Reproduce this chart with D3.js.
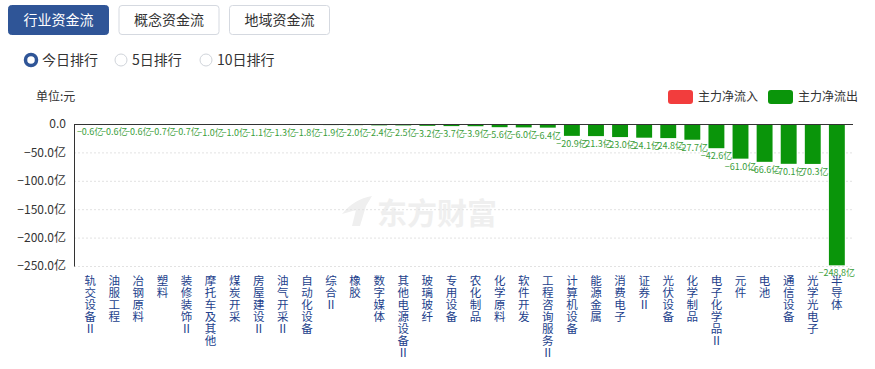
<!DOCTYPE html>
<html>
<head>
<meta charset="utf-8">
<script src="https://cdn.jsdelivr.net/npm/d3@7"></script>
<style>
    body { margin: 0; background: #fff; font-family: "Noto Sans CJK SC", "Noto Sans", sans-serif; }
</style>
</head>
<body>
<div id="chart"></div>
<script>
const categories = [
    "轨交设备Ⅱ", "油服工程", "冶钢原料", "塑料", "装修装饰Ⅱ", "摩托车及其他",
    "煤炭开采", "房屋建设Ⅱ", "油气开采Ⅱ", "自动化设备", "综合Ⅱ", "橡胶",
    "数字媒体", "其他电源设备Ⅱ", "玻璃玻纤", "专用设备", "农化制品", "化学原料",
    "软件开发", "工程咨询服务Ⅱ", "计算机设备", "能源金属", "消费电子", "证券Ⅱ",
    "光伏设备", "化学制品", "电子化学品Ⅱ", "元件", "电池", "通信设备",
    "光学光电子", "半导体"
];
const netFlow = [
    -0.6, -0.6, -0.6, -0.7, -0.7, -1.0, -1.0, -1.1, -1.3, -1.8, -1.9, -2.0,
    -2.4, -2.5, -3.2, -3.7, -3.9, -5.6, -6.0, -6.4, -20.9, -21.3, -23.0, -24.1,
    -24.8, -27.7, -42.6, -61.0, -66.6, -70.1, -70.3, -248.8
];
const yTicks = [0, -50, -100, -150, -200, -250];
const tabs = ["行业资金流", "概念资金流", "地域资金流"];
const ranks = ["今日排行", "5日排行", "10日排行"];
const legendItems = [
    { name: "主力净流入", color: "#f23d3d" },
    { name: "主力净流出", color: "#0a950a" }
];

const width = 875, height = 369;
const margin = { top: 124, left: 74, right: 22, bottom: 103 };
const plotW = width - margin.left - margin.right;
const plotH = height - margin.top - margin.bottom;

const svg = d3.select("#chart").append("svg")
    .attr("width", width).attr("height", height);

// tabs
const tabG = svg.append("g");
tabs.forEach((t, i) => {
    const x = 8 + i * 110.5;
    tabG.append("rect")
        .attr("x", x + 0.5).attr("y", 5.5)
        .attr("width", 100).attr("height", 29)
        .attr("rx", 3)
        .attr("fill", i === 0 ? "#2f5597" : "#fff")
        .attr("stroke", i === 0 ? "#2f5597" : "#d5d9e0");
    tabG.append("text")
        .attr("x", x + 50.5).attr("y", 25)
        .attr("text-anchor", "middle")
        .style("font-size", "14px")
        .attr("fill", i === 0 ? "#fff" : "#333")
        .text(t);
});

// radio buttons
const radioX = [31, 121, 206];
ranks.forEach((r, i) => {
    if (i === 0) {
        svg.append("circle").attr("cx", radioX[i]).attr("cy", 60).attr("r", 5.5)
            .attr("fill", "#fff").attr("stroke", "#2f5597").attr("stroke-width", 3.5);
    } else {
        svg.append("circle").attr("cx", radioX[i]).attr("cy", 60).attr("r", 6)
            .attr("fill", "#fff").attr("stroke", "#d0d4da");
    }
    svg.append("text")
        .attr("x", radioX[i] + 11).attr("y", 65)
        .style("font-size", "14px").attr("fill", "#333")
        .text(r);
});

// unit + legend
svg.append("text").attr("x", 36).attr("y", 101)
    .style("font-size", "12px").attr("fill", "#333").text("单位:元");

const legendX = [668, 768];
legendItems.forEach((l, i) => {
    svg.append("rect").attr("x", legendX[i]).attr("y", 90)
        .attr("width", 25).attr("height", 14).attr("rx", 3)
        .attr("fill", l.color);
    svg.append("text").attr("x", legendX[i] + 30).attr("y", 101)
        .style("font-size", "12px").attr("fill", "#333").text(l.name);
});

// watermark
const wm = svg.append("g").attr("fill", "#efefef");
wm.append("path")
    .attr("d", "M342,214 C350,204 360,198 372,196 L366,206 L360,226 L352,226 L356,210 Z");
wm.append("text").attr("x", 377).attr("y", 224)
    .style("font-size", "30px").style("font-weight", "bold")
    .text("东方财富");

const g = svg.append("g").attr("transform", `translate(${margin.left},${margin.top})`);

const x = d3.scaleBand().domain(categories).range([0, plotW]).padding(0.34);
const y = d3.scaleLinear().domain([0, -250]).range([0, plotH]);

// grid
g.selectAll(".grid").data(yTicks.slice(1)).join("line")
    .attr("x1", 0).attr("x2", plotW)
    .attr("y1", d => y(d) + 0.5).attr("y2", d => y(d) + 0.5)
    .attr("stroke", "#e2e2e2").attr("stroke-dasharray", "2,2");

// y axis
const yAxis = g.append("g").call(
    d3.axisLeft(y).tickValues(yTicks).tickSize(0).tickPadding(8)
        .tickFormat(d => d === 0 ? "0.0" : d3.format(".1f")(d) + "亿")
);
yAxis.select(".domain").attr("stroke", "#333");
yAxis.selectAll("text").style("font-size", "12px").attr("fill", "#333")
    .style("font-family", "'Noto Sans CJK SC', sans-serif");

// bars
g.selectAll(".bar").data(netFlow).join("rect")
    .attr("x", (d, i) => x(categories[i]))
    .attr("width", x.bandwidth())
    .attr("y", 0)
    .attr("height", d => y(d))
    .attr("fill", "#0a950a");

// top axis line at zero
g.append("line").attr("x1", 0).attr("x2", plotW)
    .attr("y1", 0.5).attr("y2", 0.5).attr("stroke", "#333");

// value labels
g.selectAll(".val").data(netFlow).join("text")
    .attr("x", (d, i) => x(categories[i]) + x.bandwidth() / 2)
    .attr("y", d => y(d) + 11)
    .attr("text-anchor", "middle")
    .style("font-size", "9px")
    .attr("fill", "#3a9e3a")
    .text(d => d3.format(".1f")(d) + "亿");

// category labels, vertical
const catG = g.selectAll(".cat").data(categories).join("text")
    .attr("text-anchor", "middle")
    .style("font-size", "11.5px")
    .attr("fill", "#233f8c");
catG.each(function (d) {
    const t = d3.select(this);
    const cx = x(d) + x.bandwidth() / 2;
    Array.from(d).forEach((ch, k) => {
        t.append("tspan").attr("x", cx).attr("y", plotH + 19 + k * 12).text(ch);
    });
});
</script>
</body>
</html>
